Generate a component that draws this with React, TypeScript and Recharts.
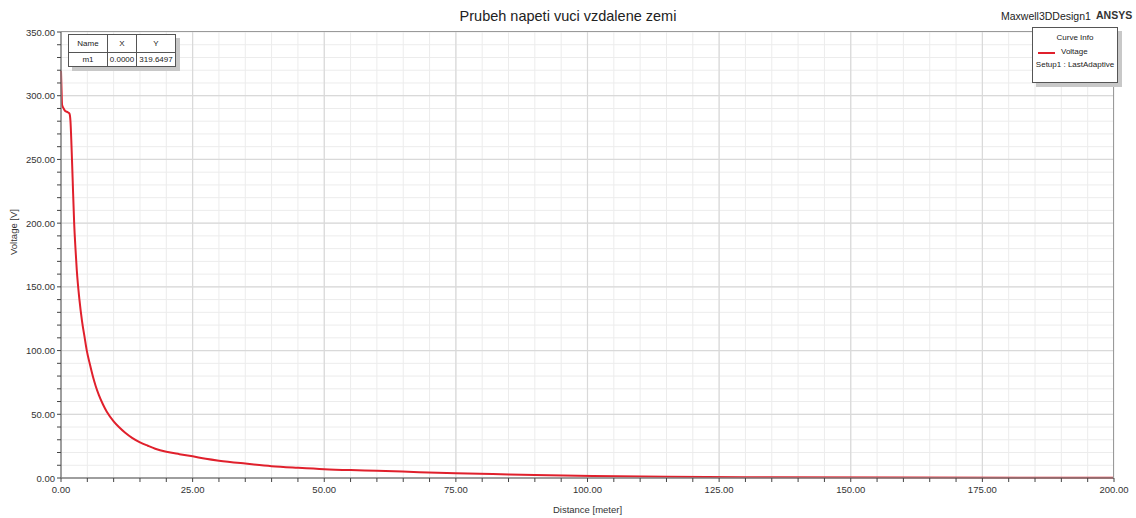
import { CartesianGrid, Line, LineChart, ReferenceLine, XAxis, YAxis } from 'recharts'

const distance = [
  0, 0.1, 0.2, 0.5, 0.8, 1.3, 1.6, 1.8, 2.0, 2.2, 2.5, 2.75, 3.0, 3.5, 4.0, 4.5, 4.9, 5.5, 6.1,
  6.6, 7.2, 8.0, 8.7, 10.0, 11.0, 12.2, 13.5, 15.0, 16.5, 17.9, 20.0, 22.5, 25.0, 27.5, 30.0,
  35.0, 40.0, 45.0, 50.0, 55.0, 60.0, 68.0, 75.0, 82.0, 90.0, 101.0, 115.0, 135.0, 160.0, 200.0,
]
const voltage = [
  319.65, 305, 293, 290, 288, 287, 286, 280, 260, 236, 200, 180, 163, 140, 123, 110, 100, 89, 79,
  72, 65, 57.5, 52, 44.5, 40, 35.5, 31.5, 28, 25.3, 23, 20.6, 18.7, 17, 15.1, 13.6, 11.3, 9.3, 8.0,
  6.9, 6.2, 5.7, 4.6, 3.7, 3.1, 2.4, 1.6, 1.0, 0.6, 0.3, 0.1,
]

const xTicks = [
  0, 5, 10, 15, 20, 25, 30, 35, 40, 45, 50, 55, 60, 65, 70, 75, 80, 85, 90, 95, 100, 105, 110,
  115, 120, 125, 130, 135, 140, 145, 150, 155, 160, 165, 170, 175, 180, 185, 190, 195, 200,
]
const yTicks = [
  0, 10, 20, 30, 40, 50, 60, 70, 80, 90, 100, 110, 120, 130, 140, 150, 160, 170, 180, 190, 200,
  210, 220, 230, 240, 250, 260, 270, 280, 290, 300, 310, 320, 330, 340, 350,
]
const xMajor = [25, 50, 75, 100, 125, 150, 175]
const yMajor = [50, 100, 150, 200, 250, 300]

const data = distance.map((d, i) => ({ distance: d, voltage: voltage[i] }))

const font = '"Liberation Sans", Arial, sans-serif'

const XTick = ({ x, y, payload }: any) =>
  payload.value % 25 === 0 ? (
    <text x={x} y={y} dy={9} textAnchor="middle" fontSize={9.5} fill="#333" fontFamily={font}>
      {payload.value.toFixed(2)}
    </text>
  ) : (
    <g />
  )

const YTick = ({ x, y, payload }: any) =>
  payload.value % 50 === 0 ? (
    <text x={x} y={y} dy={3.5} textAnchor="end" fontSize={9.5} fill="#333" fontFamily={font}>
      {payload.value.toFixed(2)}
    </text>
  ) : (
    <g />
  )

export default function App() {
  return (
    <div style={{ position: 'fixed', left: 0, top: 0, width: 1136, height: 518, background: '#fff', fontFamily: font }}>
      <LineChart width={1136} height={518} data={data} margin={{ top: 32, right: 22, bottom: 10, left: 0 }}>
        <CartesianGrid stroke="#ececec" strokeWidth={1} />
        {xMajor.map((v) => (
          <ReferenceLine key={'x' + v} x={v} stroke="#d9d9d9" strokeWidth={1.2} />
        ))}
        {yMajor.map((v) => (
          <ReferenceLine key={'y' + v} y={v} stroke="#d9d9d9" strokeWidth={1.2} />
        ))}
        <XAxis
          dataKey="distance"
          type="number"
          domain={[0, 200]}
          ticks={xTicks}
          interval={0}
          height={30}
          tick={<XTick />}
          tickSize={4}
          tickLine={{ stroke: '#444' }}
          axisLine={{ stroke: '#808080', strokeWidth: 1.5 }}
          label={{ value: 'Distance [meter]', position: 'insideBottom', offset: -5, fontSize: 9.5, fill: '#333' }}
        />
        <YAxis
          type="number"
          domain={[0, 350]}
          ticks={yTicks}
          interval={0}
          width={61}
          tick={<YTick />}
          tickSize={4}
          tickLine={{ stroke: '#444' }}
          axisLine={{ stroke: '#808080', strokeWidth: 1.5 }}
          label={{ value: 'Voltage [V]', angle: -90, position: 'insideLeft', offset: 14, fontSize: 9.5, fill: '#333' }}
        />
        <Line
          type="monotone"
          dataKey="voltage"
          stroke="#e0202c"
          strokeWidth={2}
          dot={false}
          isAnimationActive={false}
        />
      </LineChart>

      {/* plot frame top/right */}
      <div style={{ position: 'absolute', left: 61, top: 31, width: 1053, height: 447, borderTop: '1.5px solid #9a9a9a', borderRight: '1.5px solid #9a9a9a', boxSizing: 'border-box', pointerEvents: 'none' }} />

      <div style={{ position: 'absolute', left: 0, width: 1136, top: 8, textAlign: 'center', fontSize: 14.5, color: '#222' }}>
        Prubeh napeti vuci vzdalene zemi
      </div>
      <div style={{ position: 'absolute', left: 1001, top: 10, fontSize: 10.5, color: '#222' }}>Maxwell3DDesign1</div>
      <div style={{ position: 'absolute', left: 1096, top: 9, fontSize: 10.5, fontWeight: 'bold', color: '#333' }}>ANSYS</div>

      {/* marker table */}
      <div style={{ position: 'absolute', left: 68, top: 34, width: 108, height: 33, background: '#fff', border: '1px solid #555', boxSizing: 'border-box', boxShadow: '4px 4px 0 #c8c8c8', fontSize: 8, color: '#222' }}>
        <div style={{ display: 'flex', height: 17, borderBottom: '1px solid #555' }}>
          <div style={{ width: 38, borderRight: '1px solid #555', textAlign: 'center', lineHeight: '17px' }}>Name</div>
          <div style={{ width: 28, borderRight: '1px solid #555', textAlign: 'center', lineHeight: '17px' }}>X</div>
          <div style={{ flex: 1, textAlign: 'center', lineHeight: '17px' }}>Y</div>
        </div>
        <div style={{ display: 'flex', height: 14 }}>
          <div style={{ width: 38, borderRight: '1px solid #555', textAlign: 'center', lineHeight: '14px' }}>m1</div>
          <div style={{ width: 28, borderRight: '1px solid #555', textAlign: 'center', lineHeight: '14px' }}>0.0000</div>
          <div style={{ flex: 1, textAlign: 'center', lineHeight: '14px' }}>319.6497</div>
        </div>
      </div>

      {/* legend */}
      <div style={{ position: 'absolute', left: 1032, top: 27, width: 86, height: 56, background: '#fff', border: '1px solid #555', boxSizing: 'border-box', boxShadow: '4px 4px 0 #c8c8c8', fontSize: 8, color: '#222' }}>
        <div style={{ textAlign: 'center', marginTop: 5 }}>Curve Info</div>
        <div style={{ position: 'relative', height: 12, marginTop: 5 }}>
          <div style={{ position: 'absolute', left: 5, top: 5, width: 17, height: 2, background: '#e0202c' }} />
          <div style={{ position: 'absolute', left: 28, top: 0 }}>Voltage</div>
        </div>
        <div style={{ textAlign: 'center', marginTop: 1 }}>Setup1 : LastAdaptive</div>
      </div>
    </div>
  )
}
